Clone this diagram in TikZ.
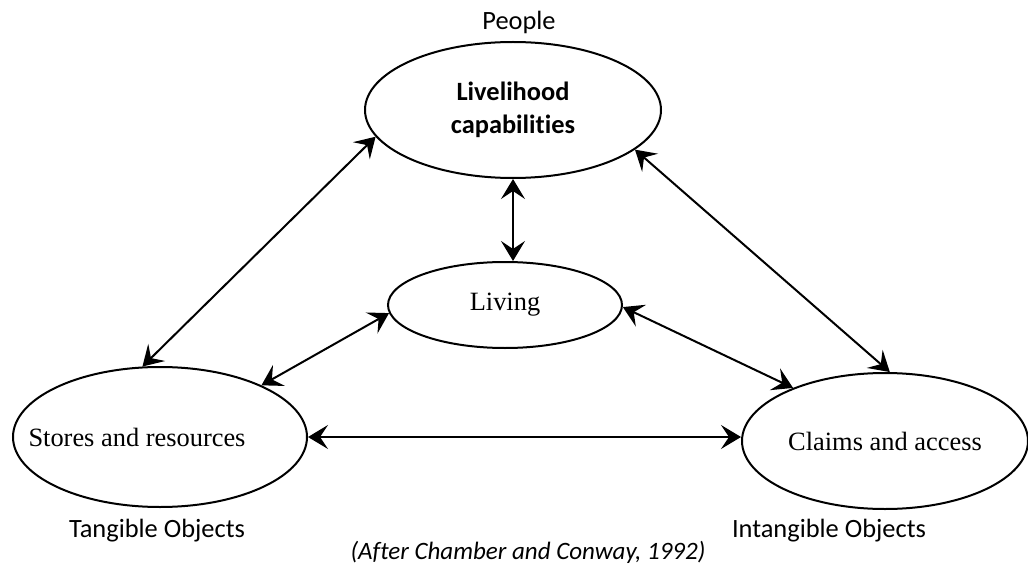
\documentclass[tikz,border=0pt]{standalone}
\usepackage{fontspec}
\setmainfont{Liberation Serif}
\newfontfamily\calibri[Ligatures=NoCommon]{Carlito}
\usetikzlibrary{arrows.meta,shapes.geometric}

\begin{document}
\begin{tikzpicture}[x=0.5pt, y=0.5pt,
		oval/.style={ellipse, draw, line width=1pt, inner sep=0pt, align=center,
			font=\fontsize{13.2}{16.5}\selectfont},
		tag/.style={anchor=base, font=\calibri\fontsize{13.2}{16}\selectfont},
		link/.style={{Stealth[length=10pt, width=12pt, inset=4pt]}-{Stealth[length=10pt, width=12pt, inset=4pt]}, line width=1pt}]
		\useasboundingbox (0, 0) rectangle (1028, 574);
		\node [oval, minimum width=148pt, minimum height=68pt, font=\calibri\bfseries\fontsize{13.2}{16.5}\selectfont] (cap) at (513, 464) {Livelihood\\capabilities};
		\node [oval, minimum width=117pt, minimum height=43pt] (liv) at (505, 269) {Living};
		\node [oval, minimum width=147pt, minimum height=70pt,
			label={[xshift=-11.5pt, font=\fontsize{13.2}{16.5}\selectfont]center:Stores and resources}] (res) at (160, 137) {};
		\node [oval, minimum width=143pt, minimum height=68pt] (clm) at (885, 133) {Claims and access};
		\node [tag] (ppl) at (519, 544) {People};
		\node [tag] (tng) at (157, 37) {Tangible Objects};
		\node [tag] (itg) at (829, 37) {Intangible Objects};
		\node [tag, font=\calibri\itshape\fontsize{12.5}{15}\selectfont] (src) at (528, 15) {(After Chamber and Conway, 1992)};
		\draw [link] (cap.191) -- (res.104);
		\draw [link] (cap.south) -- (cap.south |- liv.north);
		\draw [link] (cap.342) -- (clm.86);
		\draw [link] (liv.184) -- (res.27);
		\draw [link] (liv.359) -- (clm.150);
		\draw [link] (res.east) -- (res.east -| clm.west);
\end{tikzpicture}
\end{document}
